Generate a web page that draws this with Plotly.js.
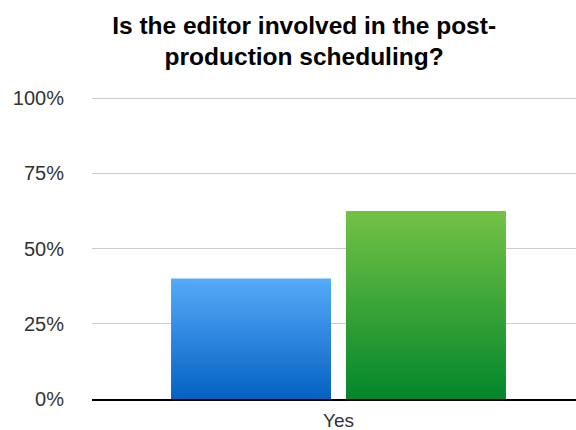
<!DOCTYPE html>
<html>
<head>
<meta charset="utf-8">
<script src="https://cdn.plot.ly/plotly-3.0.1.min.js"></script>
<style>
html,body{margin:0;padding:0;background:#fff;}
#chart{width:576px;height:430px;}
</style>
</head>
<body>
<div id="chart"></div>
<script>
const categories = ["Yes"];
const seriesNames = ["Series 1", "Series 2"];
const series1 = [40];
const series2 = [62.5];
const yTickVals = [0, 25, 50, 75, 100];
const yTickText = ["0%", "25%", "50%", "75%", "100%"];
const titleText = "Is the editor involved in the post-<br>production scheduling?";

const gradients = [
  {id: "gradBlue", top: "#55aaf9", bottom: "#0562c2", solid: "#2b84dd"},
  {id: "gradGreen", top: "#74c245", bottom: "#02872b", solid: "#3aa53a"}
];

const traces = [
  {type: "bar", x: categories, y: series1, name: seriesNames[0],
   marker: {color: gradients[0].solid, line: {width: 0}}, hoverinfo: "none"},
  {type: "bar", x: categories, y: series2, name: seriesNames[1],
   marker: {color: gradients[1].solid, line: {width: 0}}, hoverinfo: "none"}
];

const font = "'Liberation Sans', Arial, sans-serif";

const layout = {
  width: 576, height: 430,
  margin: {l: 92, r: 0, t: 85.9, b: 30.5, pad: 0},
  paper_bgcolor: "#ffffff",
  plot_bgcolor: "#ffffff",
  showlegend: false,
  barmode: "group",
  bargap: 0.277,
  bargroupgap: 0.0857,
  title: {
    text: titleText,
    font: {family: font, size: 24.5, color: "#000000", weight: "bold"},
    x: 0.528, xref: "container", xanchor: "center",
    y: 0.922, yref: "container", yanchor: "middle"
  },
  xaxis: {
    type: "category",
    range: [-0.5093, 0.4907],
    showgrid: false,
    zeroline: false,
    showline: true,
    linecolor: "#000000",
    linewidth: 2,
    ticks: "",
    tickfont: {family: font, size: 19, color: "#333333"},
    ticklabelstandoff: 3,
    fixedrange: true
  },
  yaxis: {
    range: [0, 104],
    tickvals: yTickVals,
    ticktext: yTickText,
    showgrid: true,
    gridcolor: "#cccccc",
    gridwidth: 1,
    zeroline: false,
    showline: false,
    ticks: "",
    tickfont: {family: font, size: 20, color: "#333333"},
    ticklabelstandoff: 27,
    fixedrange: true
  },
  font: {family: font}
};

Plotly.newPlot("chart", traces, layout, {staticPlot: true, displayModeBar: false}).then(function(gd){
  const svg = gd.querySelector(".main-svg");
  const ns = "http://www.w3.org/2000/svg";
  let defs = svg.querySelector("defs");
  if (!defs) { defs = document.createElementNS(ns, "defs"); svg.insertBefore(defs, svg.firstChild); }
  gradients.forEach(function(g){
    const lg = document.createElementNS(ns, "linearGradient");
    lg.setAttribute("id", g.id);
    lg.setAttribute("x1", "0"); lg.setAttribute("y1", "0");
    lg.setAttribute("x2", "0"); lg.setAttribute("y2", "1");
    const s1 = document.createElementNS(ns, "stop");
    s1.setAttribute("offset", "0"); s1.setAttribute("stop-color", g.top);
    const s2 = document.createElementNS(ns, "stop");
    s2.setAttribute("offset", "1"); s2.setAttribute("stop-color", g.bottom);
    lg.appendChild(s1); lg.appendChild(s2);
    defs.appendChild(lg);
  });
  const barTraces = svg.querySelectorAll(".barlayer .trace");
  barTraces.forEach(function(t, i){
    t.querySelectorAll(".point path").forEach(function(p){
      p.style.fill = "url(#" + gradients[i].id + ")";
    });
  });
});
</script>
</body>
</html>
